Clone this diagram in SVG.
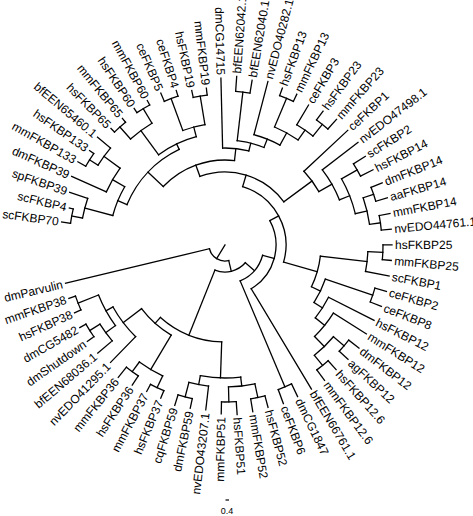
<svg xmlns="http://www.w3.org/2000/svg" width="473" height="516" viewBox="0 0 473 516">
<style>
.c line,.c circle{fill:none;stroke:#000;stroke-width:1.3;stroke-linecap:square}
.lb text{font-family:"Liberation Sans",Arial,sans-serif;font-size:12px;fill:#000}
.L{text-anchor:end}
.sb{font-family:"Liberation Sans",Arial,sans-serif;font-size:9px;fill:#000;text-anchor:middle}
</style>
<rect width="473" height="516" fill="#fff"/>
<g transform="translate(225,245)">
<g id="connectors" class="c">
<line x1="0" x2="16" transform="rotate(481.51)"/>
<line x1="16" x2="27" transform="rotate(436.52)"/>
<line x1="16" x2="164" transform="rotate(526.5)"/>
<line x1="27" x2="39" transform="rotate(401.19)"/>
<line x1="27" x2="97" transform="rotate(471.85)"/>
<line x1="39" x2="51" transform="rotate(375.28)"/>
<line x1="39" x2="154" transform="rotate(427.1)"/>
<line x1="51" x2="61" transform="rotate(331.51)"/>
<line x1="51" x2="168" transform="rotate(419.04)"/>
<line x1="61" x2="73" transform="rotate(286.8)"/>
<line x1="61" x2="96" transform="rotate(376.22)"/>
<line x1="73" x2="85" transform="rotate(249.92)"/>
<line x1="73" x2="108" transform="rotate(323.67)"/>
<line x1="85" x2="106" transform="rotate(223.43)"/>
<line x1="85" x2="97" transform="rotate(276.41)"/>
<line x1="106" x2="116" transform="rotate(202.44)"/>
<line x1="106" x2="112" transform="rotate(244.42)"/>
<line x1="116" x2="145" transform="rotate(194.72)"/>
<line x1="116" x2="130" transform="rotate(210.17)"/>
<line x1="145" x2="156" transform="rotate(190.69)"/>
<line x1="145" x2="164" transform="rotate(198.75)"/>
<line x1="156" x2="165" transform="rotate(188)"/>
<line x1="156" x2="160" transform="rotate(193.37)"/>
<line x1="130" x2="168" transform="rotate(204.12)"/>
<line x1="130" x2="150" transform="rotate(216.21)"/>
<line x1="150" x2="160" transform="rotate(212.18)"/>
<line x1="150" x2="167" transform="rotate(220.24)"/>
<line x1="160" x2="169" transform="rotate(209.49)"/>
<line x1="160" x2="165" transform="rotate(214.87)"/>
<line x1="112" x2="142" transform="rotate(233.67)"/>
<line x1="112" x2="122" transform="rotate(255.16)"/>
<line x1="142" x2="158" transform="rotate(228.3)"/>
<line x1="142" x2="159" transform="rotate(239.05)"/>
<line x1="158" x2="163" transform="rotate(225.61)"/>
<line x1="158" x2="163" transform="rotate(230.98)"/>
<line x1="159" x2="164" transform="rotate(236.36)"/>
<line x1="159" x2="164" transform="rotate(241.73)"/>
<line x1="122" x2="156" transform="rotate(249.79)"/>
<line x1="122" x2="151" transform="rotate(260.54)"/>
<line x1="156" x2="165" transform="rotate(247.1)"/>
<line x1="156" x2="162" transform="rotate(252.48)"/>
<line x1="151" x2="158" transform="rotate(257.85)"/>
<line x1="151" x2="158" transform="rotate(263.22)"/>
<line x1="97" x2="167" transform="rotate(268.6)"/>
<line x1="97" x2="105" transform="rotate(284.21)"/>
<line x1="105" x2="154" transform="rotate(276.66)"/>
<line x1="105" x2="114" transform="rotate(291.77)"/>
<line x1="154" x2="169" transform="rotate(273.97)"/>
<line x1="154" x2="167" transform="rotate(279.34)"/>
<line x1="114" x2="169" transform="rotate(284.71)"/>
<line x1="114" x2="128" transform="rotate(298.82)"/>
<line x1="128" x2="159" transform="rotate(292.78)"/>
<line x1="128" x2="140" transform="rotate(304.86)"/>
<line x1="159" x2="167" transform="rotate(290.09)"/>
<line x1="159" x2="167" transform="rotate(295.46)"/>
<line x1="140" x2="163" transform="rotate(300.83)"/>
<line x1="140" x2="155" transform="rotate(308.9)"/>
<line x1="155" x2="166" transform="rotate(306.21)"/>
<line x1="155" x2="168" transform="rotate(311.58)"/>
<line x1="108" x2="168" transform="rotate(316.95)"/>
<line x1="108" x2="123" transform="rotate(330.39)"/>
<line x1="123" x2="168" transform="rotate(322.33)"/>
<line x1="123" x2="134" transform="rotate(338.44)"/>
<line x1="134" x2="152" transform="rotate(330.39)"/>
<line x1="134" x2="146" transform="rotate(346.5)"/>
<line x1="152" x2="166" transform="rotate(327.7)"/>
<line x1="152" x2="166" transform="rotate(333.07)"/>
<line x1="146" x2="157" transform="rotate(341.13)"/>
<line x1="146" x2="157" transform="rotate(351.88)"/>
<line x1="157" x2="169" transform="rotate(338.44)"/>
<line x1="157" x2="169" transform="rotate(343.82)"/>
<line x1="157" x2="168" transform="rotate(349.19)"/>
<line x1="157" x2="167" transform="rotate(354.56)"/>
<line x1="96" x2="143" transform="rotate(366.65)"/>
<line x1="96" x2="106" transform="rotate(385.8)"/>
<line x1="143" x2="158" transform="rotate(362.63)"/>
<line x1="143" x2="167" transform="rotate(370.68)"/>
<line x1="158" x2="167" transform="rotate(359.94)"/>
<line x1="158" x2="167" transform="rotate(365.31)"/>
<line x1="106" x2="156" transform="rotate(378.75)"/>
<line x1="106" x2="116" transform="rotate(392.85)"/>
<line x1="156" x2="168" transform="rotate(376.06)"/>
<line x1="156" x2="168" transform="rotate(381.43)"/>
<line x1="116" x2="167" transform="rotate(386.8)"/>
<line x1="116" x2="128" transform="rotate(398.89)"/>
<line x1="128" x2="167" transform="rotate(392.17)"/>
<line x1="128" x2="142" transform="rotate(405.61)"/>
<line x1="142" x2="156" transform="rotate(400.23)"/>
<line x1="142" x2="155" transform="rotate(410.98)"/>
<line x1="156" x2="169" transform="rotate(397.55)"/>
<line x1="156" x2="168" transform="rotate(402.92)"/>
<line x1="155" x2="167" transform="rotate(408.29)"/>
<line x1="155" x2="168" transform="rotate(413.67)"/>
<line x1="154" x2="168" transform="rotate(424.41)"/>
<line x1="154" x2="169" transform="rotate(429.79)"/>
<line x1="97" x2="133" transform="rotate(451.95)"/>
<line x1="97" x2="105" transform="rotate(491.74)"/>
<line x1="133" x2="142" transform="rotate(443.22)"/>
<line x1="133" x2="142" transform="rotate(460.68)"/>
<line x1="142" x2="156" transform="rotate(437.85)"/>
<line x1="142" x2="157" transform="rotate(448.59)"/>
<line x1="156" x2="168" transform="rotate(435.16)"/>
<line x1="156" x2="169" transform="rotate(440.53)"/>
<line x1="157" x2="170" transform="rotate(445.9)"/>
<line x1="157" x2="169" transform="rotate(451.28)"/>
<line x1="142" x2="166" transform="rotate(456.65)"/>
<line x1="142" x2="157" transform="rotate(464.71)"/>
<line x1="157" x2="167" transform="rotate(462.02)"/>
<line x1="157" x2="168" transform="rotate(467.4)"/>
<line x1="105" x2="145" transform="rotate(480.83)"/>
<line x1="105" x2="128" transform="rotate(502.66)"/>
<line x1="145" x2="158" transform="rotate(475.46)"/>
<line x1="145" x2="157" transform="rotate(486.21)"/>
<line x1="158" x2="166" transform="rotate(472.77)"/>
<line x1="158" x2="166" transform="rotate(478.14)"/>
<line x1="157" x2="168" transform="rotate(483.52)"/>
<line x1="157" x2="170" transform="rotate(488.89)"/>
<line x1="128" x2="164" transform="rotate(494.26)"/>
<line x1="128" x2="136" transform="rotate(511.05)"/>
<line x1="136" x2="148" transform="rotate(503.66)"/>
<line x1="136" x2="158" transform="rotate(518.44)"/>
<line x1="148" x2="167" transform="rotate(499.63)"/>
<line x1="148" x2="160" transform="rotate(507.7)"/>
<line x1="160" x2="168" transform="rotate(505.01)"/>
<line x1="160" x2="167" transform="rotate(510.38)"/>
<line x1="158" x2="165" transform="rotate(515.75)"/>
<line x1="158" x2="165" transform="rotate(521.13)"/>
<circle r="16" pathLength="360" stroke-dasharray="89.98 400" transform="rotate(436.52)"/>
<circle r="27" pathLength="360" stroke-dasharray="70.66 400" transform="rotate(401.19)"/>
<circle r="39" pathLength="360" stroke-dasharray="51.82 400" transform="rotate(375.28)"/>
<circle r="51" pathLength="360" stroke-dasharray="87.53 400" transform="rotate(331.51)"/>
<circle r="61" pathLength="360" stroke-dasharray="89.42 400" transform="rotate(286.8)"/>
<circle r="73" pathLength="360" stroke-dasharray="73.75 400" transform="rotate(249.92)"/>
<circle r="85" pathLength="360" stroke-dasharray="52.98 400" transform="rotate(223.43)"/>
<circle r="106" pathLength="360" stroke-dasharray="41.98 400" transform="rotate(202.44)"/>
<circle r="116" pathLength="360" stroke-dasharray="15.45 400" transform="rotate(194.72)"/>
<circle r="145" pathLength="360" stroke-dasharray="8.06 400" transform="rotate(190.69)"/>
<circle r="156" pathLength="360" stroke-dasharray="5.37 400" transform="rotate(188)"/>
<circle r="130" pathLength="360" stroke-dasharray="12.09 400" transform="rotate(204.12)"/>
<circle r="150" pathLength="360" stroke-dasharray="8.06 400" transform="rotate(212.18)"/>
<circle r="160" pathLength="360" stroke-dasharray="5.38 400" transform="rotate(209.49)"/>
<circle r="112" pathLength="360" stroke-dasharray="21.49 400" transform="rotate(233.67)"/>
<circle r="142" pathLength="360" stroke-dasharray="10.75 400" transform="rotate(228.3)"/>
<circle r="158" pathLength="360" stroke-dasharray="5.37 400" transform="rotate(225.61)"/>
<circle r="159" pathLength="360" stroke-dasharray="5.37 400" transform="rotate(236.36)"/>
<circle r="122" pathLength="360" stroke-dasharray="10.75 400" transform="rotate(249.79)"/>
<circle r="156" pathLength="360" stroke-dasharray="5.38 400" transform="rotate(247.1)"/>
<circle r="151" pathLength="360" stroke-dasharray="5.37 400" transform="rotate(257.85)"/>
<circle r="97" pathLength="360" stroke-dasharray="15.61 400" transform="rotate(268.6)"/>
<circle r="105" pathLength="360" stroke-dasharray="15.11 400" transform="rotate(276.66)"/>
<circle r="154" pathLength="360" stroke-dasharray="5.37 400" transform="rotate(273.97)"/>
<circle r="114" pathLength="360" stroke-dasharray="14.11 400" transform="rotate(284.71)"/>
<circle r="128" pathLength="360" stroke-dasharray="12.08 400" transform="rotate(292.78)"/>
<circle r="159" pathLength="360" stroke-dasharray="5.37 400" transform="rotate(290.09)"/>
<circle r="140" pathLength="360" stroke-dasharray="8.07 400" transform="rotate(300.83)"/>
<circle r="155" pathLength="360" stroke-dasharray="5.37 400" transform="rotate(306.21)"/>
<circle r="108" pathLength="360" stroke-dasharray="13.44 400" transform="rotate(316.95)"/>
<circle r="123" pathLength="360" stroke-dasharray="16.11 400" transform="rotate(322.33)"/>
<circle r="134" pathLength="360" stroke-dasharray="16.11 400" transform="rotate(330.39)"/>
<circle r="152" pathLength="360" stroke-dasharray="5.37 400" transform="rotate(327.7)"/>
<circle r="146" pathLength="360" stroke-dasharray="10.75 400" transform="rotate(341.13)"/>
<circle r="157" pathLength="360" stroke-dasharray="5.38 400" transform="rotate(338.44)"/>
<circle r="157" pathLength="360" stroke-dasharray="5.37 400" transform="rotate(349.19)"/>
<circle r="96" pathLength="360" stroke-dasharray="19.15 400" transform="rotate(366.65)"/>
<circle r="143" pathLength="360" stroke-dasharray="8.05 400" transform="rotate(362.63)"/>
<circle r="158" pathLength="360" stroke-dasharray="5.37 400" transform="rotate(359.94)"/>
<circle r="106" pathLength="360" stroke-dasharray="14.1 400" transform="rotate(378.75)"/>
<circle r="156" pathLength="360" stroke-dasharray="5.37 400" transform="rotate(376.06)"/>
<circle r="116" pathLength="360" stroke-dasharray="12.09 400" transform="rotate(386.8)"/>
<circle r="128" pathLength="360" stroke-dasharray="13.44 400" transform="rotate(392.17)"/>
<circle r="142" pathLength="360" stroke-dasharray="10.75 400" transform="rotate(400.23)"/>
<circle r="156" pathLength="360" stroke-dasharray="5.37 400" transform="rotate(397.55)"/>
<circle r="155" pathLength="360" stroke-dasharray="5.38 400" transform="rotate(408.29)"/>
<circle r="154" pathLength="360" stroke-dasharray="5.38 400" transform="rotate(424.41)"/>
<circle r="97" pathLength="360" stroke-dasharray="39.79 400" transform="rotate(451.95)"/>
<circle r="133" pathLength="360" stroke-dasharray="17.46 400" transform="rotate(443.22)"/>
<circle r="142" pathLength="360" stroke-dasharray="10.74 400" transform="rotate(437.85)"/>
<circle r="156" pathLength="360" stroke-dasharray="5.37 400" transform="rotate(435.16)"/>
<circle r="157" pathLength="360" stroke-dasharray="5.38 400" transform="rotate(445.9)"/>
<circle r="142" pathLength="360" stroke-dasharray="8.06 400" transform="rotate(456.65)"/>
<circle r="157" pathLength="360" stroke-dasharray="5.38 400" transform="rotate(462.02)"/>
<circle r="105" pathLength="360" stroke-dasharray="21.83 400" transform="rotate(480.83)"/>
<circle r="145" pathLength="360" stroke-dasharray="10.75 400" transform="rotate(475.46)"/>
<circle r="158" pathLength="360" stroke-dasharray="5.37 400" transform="rotate(472.77)"/>
<circle r="157" pathLength="360" stroke-dasharray="5.37 400" transform="rotate(483.52)"/>
<circle r="128" pathLength="360" stroke-dasharray="16.79 400" transform="rotate(494.26)"/>
<circle r="136" pathLength="360" stroke-dasharray="14.78 400" transform="rotate(503.66)"/>
<circle r="148" pathLength="360" stroke-dasharray="8.07 400" transform="rotate(499.63)"/>
<circle r="160" pathLength="360" stroke-dasharray="5.37 400" transform="rotate(505.01)"/>
<circle r="158" pathLength="360" stroke-dasharray="5.38 400" transform="rotate(515.75)"/>
</g>
<g class="lb">
<g id="scFKBP70"><text class="L" dy="0.35em" transform="rotate(188) translate(168,0) rotate(180)">scFKBP70</text></g>
<g id="scFKBP4"><text class="L" dy="0.35em" transform="rotate(193.37) translate(163,0) rotate(180)">scFKBP4</text></g>
<g id="spFKBP39"><text class="L" dy="0.35em" transform="rotate(198.75) translate(167,0) rotate(180)">spFKBP39</text></g>
<g id="dmFKBP39"><text class="L" dy="0.35em" transform="rotate(204.12) translate(171,0) rotate(180)">dmFKBP39</text></g>
<g id="mmFKBP133"><text class="L" dy="0.35em" transform="rotate(209.49) translate(172,0) rotate(180)">mmFKBP133</text></g>
<g id="hsFKBP133"><text class="L" dy="0.35em" transform="rotate(214.87) translate(168,0) rotate(180)">hsFKBP133</text></g>
<g id="bfEEN65460.1"><text class="L" dy="0.35em" transform="rotate(220.24) translate(170,0) rotate(180)">bfEEN65460.1</text></g>
<g id="hsFKBP65"><text class="L" dy="0.35em" transform="rotate(225.61) translate(166,0) rotate(180)">hsFKBP65</text></g>
<g id="mmFKBP65"><text class="L" dy="0.35em" transform="rotate(230.98) translate(166,0) rotate(180)">mmFKBP65</text></g>
<g id="hsFKBP60"><text class="L" dy="0.35em" transform="rotate(236.36) translate(167,0) rotate(180)">hsFKBP60</text></g>
<g id="mmFKBP60"><text class="L" dy="0.35em" transform="rotate(241.73) translate(167,0) rotate(180)">mmFKBP60</text></g>
<g id="ceFKBP5"><text class="L" dy="0.35em" transform="rotate(247.1) translate(168,0) rotate(180)">ceFKBP5</text></g>
<g id="ceFKBP4"><text class="L" dy="0.35em" transform="rotate(252.48) translate(165,0) rotate(180)">ceFKBP4</text></g>
<g id="hsFKBP19"><text class="L" dy="0.35em" transform="rotate(257.85) translate(161,0) rotate(180)">hsFKBP19</text></g>
<g id="mmFKBP19"><text class="L" dy="0.35em" transform="rotate(263.22) translate(161,0) rotate(180)">mmFKBP19</text></g>
<g id="dmCG14715"><text class="L" dy="0.35em" transform="rotate(268.6) translate(170,0) rotate(180)">dmCG14715</text></g>
<g id="bfEEN62042.1"><text dy="0.35em" transform="rotate(273.97) translate(172,0)">bfEEN62042.1</text></g>
<g id="bfEEN62040.1"><text dy="0.35em" transform="rotate(279.34) translate(170,0)">bfEEN62040.1</text></g>
<g id="nvEDO40282.1"><text dy="0.35em" transform="rotate(284.71) translate(172,0)">nvEDO40282.1</text></g>
<g id="hsFKBP13"><text dy="0.35em" transform="rotate(290.09) translate(170,0)">hsFKBP13</text></g>
<g id="mmFKBP13"><text dy="0.35em" transform="rotate(295.46) translate(170,0)">mmFKBP13</text></g>
<g id="ceFKBP3"><text dy="0.35em" transform="rotate(300.83) translate(166,0)">ceFKBP3</text></g>
<g id="hsFKBP23"><text dy="0.35em" transform="rotate(306.21) translate(169,0)">hsFKBP23</text></g>
<g id="mmFKBP23"><text dy="0.35em" transform="rotate(311.58) translate(171,0)">mmFKBP23</text></g>
<g id="ceFKBP1"><text dy="0.35em" transform="rotate(316.95) translate(171,0)">ceFKBP1</text></g>
<g id="nvEDO47498.1"><text dy="0.35em" transform="rotate(322.33) translate(171,0)">nvEDO47498.1</text></g>
<g id="scFKBP2"><text dy="0.35em" transform="rotate(327.7) translate(169,0)">scFKBP2</text></g>
<g id="hsFKBP14"><text dy="0.35em" transform="rotate(333.07) translate(169,0)">hsFKBP14</text></g>
<g id="dmFKBP14"><text dy="0.35em" transform="rotate(338.44) translate(172,0)">dmFKBP14</text></g>
<g id="aaFKBP14"><text dy="0.35em" transform="rotate(343.82) translate(172,0)">aaFKBP14</text></g>
<g id="mmFKBP14"><text dy="0.35em" transform="rotate(349.19) translate(171,0)">mmFKBP14</text></g>
<g id="nvEDO44761.1"><text dy="0.35em" transform="rotate(354.56) translate(170,0)">nvEDO44761.1</text></g>
<g id="hsFKBP25"><text dy="0.35em" transform="rotate(359.94) translate(170,0)">hsFKBP25</text></g>
<g id="mmFKBP25"><text dy="0.35em" transform="rotate(365.31) translate(170,0)">mmFKBP25</text></g>
<g id="scFKBP1"><text dy="0.35em" transform="rotate(370.68) translate(170,0)">scFKBP1</text></g>
<g id="ceFKBP2"><text dy="0.35em" transform="rotate(376.06) translate(171,0)">ceFKBP2</text></g>
<g id="ceFKBP8"><text dy="0.35em" transform="rotate(381.43) translate(171,0)">ceFKBP8</text></g>
<g id="hsFKBP12"><text dy="0.35em" transform="rotate(386.8) translate(170,0)">hsFKBP12</text></g>
<g id="mmFKBP12"><text dy="0.35em" transform="rotate(392.17) translate(170,0)">mmFKBP12</text></g>
<g id="dmFKBP12"><text dy="0.35em" transform="rotate(397.55) translate(172,0)">dmFKBP12</text></g>
<g id="agFKBP12"><text dy="0.35em" transform="rotate(402.92) translate(171,0)">agFKBP12</text></g>
<g id="hsFKBP12.6"><text dy="0.35em" transform="rotate(408.29) translate(170,0)">hsFKBP12.6</text></g>
<g id="mmFKBP12.6"><text dy="0.35em" transform="rotate(413.67) translate(171,0)">mmFKBP12.6</text></g>
<g id="bfEEN66761.1"><text dy="0.35em" transform="rotate(419.04) translate(171,0)">bfEEN66761.1</text></g>
<g id="dmCG1847"><text dy="0.35em" transform="rotate(424.41) translate(171,0)">dmCG1847</text></g>
<g id="ceFKBP6"><text dy="0.35em" transform="rotate(429.79) translate(172,0)">ceFKBP6</text></g>
<g id="hsFKBP52"><text dy="0.35em" transform="rotate(435.16) translate(171,0)">hsFKBP52</text></g>
<g id="mmFKBP52"><text dy="0.35em" transform="rotate(440.53) translate(172,0)">mmFKBP52</text></g>
<g id="hsFKBP51"><text dy="0.35em" transform="rotate(445.9) translate(173,0)">hsFKBP51</text></g>
<g id="mmFKBP51"><text class="L" dy="0.35em" transform="rotate(451.28) translate(172,0) rotate(180)">mmFKBP51</text></g>
<g id="nvEDO43207.1"><text class="L" dy="0.35em" transform="rotate(456.65) translate(169,0) rotate(180)">nvEDO43207.1</text></g>
<g id="dmFKBP59"><text class="L" dy="0.35em" transform="rotate(462.02) translate(170,0) rotate(180)">dmFKBP59</text></g>
<g id="cqFKBP59"><text class="L" dy="0.35em" transform="rotate(467.4) translate(171,0) rotate(180)">cqFKBP59</text></g>
<g id="hsFKBP37"><text class="L" dy="0.35em" transform="rotate(472.77) translate(169,0) rotate(180)">hsFKBP37</text></g>
<g id="mmFKBP37"><text class="L" dy="0.35em" transform="rotate(478.14) translate(169,0) rotate(180)">mmFKBP37</text></g>
<g id="hsFKBP36"><text class="L" dy="0.35em" transform="rotate(483.52) translate(171,0) rotate(180)">hsFKBP36</text></g>
<g id="mmFKBP36"><text class="L" dy="0.35em" transform="rotate(488.89) translate(173,0) rotate(180)">mmFKBP36</text></g>
<g id="nvEDO41295.1"><text class="L" dy="0.35em" transform="rotate(494.26) translate(167,0) rotate(180)">nvEDO41295.1</text></g>
<g id="bfEEN68036.1"><text class="L" dy="0.35em" transform="rotate(499.63) translate(170,0) rotate(180)">bfEEN68036.1</text></g>
<g id="dmShutdown"><text class="L" dy="0.35em" transform="rotate(505.01) translate(171,0) rotate(180)">dmShutdown</text></g>
<g id="dmCG5482"><text class="L" dy="0.35em" transform="rotate(510.38) translate(170,0) rotate(180)">dmCG5482</text></g>
<g id="hsFKBP38"><text class="L" dy="0.35em" transform="rotate(515.75) translate(168,0) rotate(180)">hsFKBP38</text></g>
<g id="mmFKBP38"><text class="L" dy="0.35em" transform="rotate(521.13) translate(168,0) rotate(180)">mmFKBP38</text></g>
<g id="dmParvulin"><text class="L" dy="0.35em" transform="rotate(526.5) translate(167,0) rotate(180)">dmParvulin</text></g>
</g>
</g>
<g id="scalebar">
<line x1="225.5" y1="500" x2="229" y2="500" stroke="#000" stroke-width="1.2"/>
<text class="sb" x="227" y="514">0.4</text>
</g>
</svg>
